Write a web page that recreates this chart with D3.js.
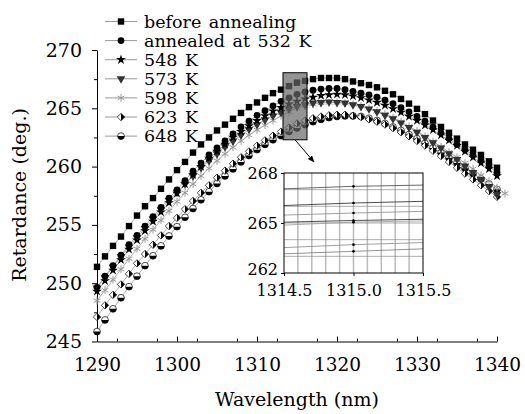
<!DOCTYPE html>
<html>
<head>
<meta charset="utf-8">
<script src="https://cdn.jsdelivr.net/npm/d3@7"></script>
<style>
  body { margin: 0; background: #fff; }
  svg text { font-family: "DejaVu Serif", serif; fill: #000; }
</style>
</head>
<body>
<div id="chart"></div>
<script>
// wavelength grid (nm); the 598 K run has one extra point at 1341
var wavelengths = [1290, 1291, 1292, 1293, 1294, 1295, 1296, 1297, 1298, 1299,
    1300, 1301, 1302, 1303, 1304, 1305, 1306, 1307, 1308, 1309,
    1310, 1311, 1312, 1313, 1314, 1315, 1316, 1317, 1318, 1319,
    1320, 1321, 1322, 1323, 1324, 1325, 1326, 1327, 1328, 1329,
    1330, 1331, 1332, 1333, 1334, 1335, 1336, 1337, 1338, 1339,
    1340, 1341];

var beforeAnnealing = [251.4, 252.3, 253.2, 254.0, 254.9, 255.8, 256.6, 257.3, 258.1, 258.9,
    259.7, 260.4, 261.2, 261.9, 262.5, 263.1, 263.6, 264.1, 264.6, 265.1,
    265.5, 265.9, 266.3, 266.6, 266.9, 267.2, 267.35, 267.5, 267.6, 267.6,
    267.6, 267.5, 267.3, 267.15, 267.0, 266.8, 266.5, 266.2, 265.8, 265.4,
    264.95, 264.5, 263.95, 263.4, 262.9, 262.4, 261.9, 261.45, 261.0, 260.45,
    259.9];
var annealed532 = [249.65, 250.6, 251.5, 252.4, 253.3, 254.1, 254.9, 255.7, 256.5, 257.3,
    258.0, 258.8, 259.6, 260.3, 261.0, 261.6, 262.2, 262.8, 263.4, 263.9,
    264.4, 264.8, 265.2, 265.6, 265.9, 266.2, 266.4, 266.55, 266.65, 266.7,
    266.7, 266.6, 266.45, 266.3, 266.15, 265.95, 265.7, 265.4, 265.05, 264.7,
    264.3, 263.9, 263.4, 262.9, 262.4, 261.9, 261.45, 261.0, 260.55, 260.05,
    259.5];
var annealed548 = [249.3, 250.2, 251.1, 252.0, 252.9, 253.7, 254.5, 255.3, 256.1, 256.9,
    257.7, 258.5, 259.3, 260.0, 260.7, 261.3, 261.9, 262.5, 263.0, 263.5,
    263.95, 264.35, 264.75, 265.05, 265.35, 265.6, 265.8, 265.95, 266.1, 266.15,
    266.2, 266.15, 266.05, 265.9, 265.7, 265.5, 265.25, 264.95, 264.65, 264.3,
    263.95, 263.55, 263.15, 262.7, 262.25, 261.8, 261.3, 260.8, 260.3, 259.8,
    259.2];
var annealed573 = [249.6, 250.5, 251.4, 252.3, 253.1, 253.9, 254.7, 255.5, 256.3, 257.1,
    257.8, 258.5, 259.2, 259.9, 260.5, 261.1, 261.7, 262.2, 262.7, 263.2,
    263.6, 264.0, 264.35, 264.65, 264.95, 265.15, 265.3, 265.45, 265.5, 265.55,
    265.5, 265.45, 265.3, 265.15, 264.95, 264.7, 264.4, 264.1, 263.75, 263.35,
    262.95, 262.5, 262.05, 261.6, 261.1, 260.6, 260.05, 259.5, 258.9, 258.25,
    257.6];
var annealed598 = [248.5, 249.4, 250.3, 251.2, 252.1, 252.95, 253.8, 254.6, 255.4, 256.2,
    257.0, 257.75, 258.5, 259.2, 259.85, 260.5, 261.1, 261.65, 262.2, 262.7,
    263.15, 263.55, 263.95, 264.35, 264.7, 265.05, 265.2, 265.35, 265.45, 265.5,
    265.5, 265.45, 265.35, 265.2, 265.0, 264.75, 264.5, 264.2, 263.85, 263.45,
    263.05, 262.6, 262.15, 261.7, 261.25, 260.8, 260.3, 259.8, 259.25, 258.75,
    258.2, 257.7];
var annealed623 = [247.1, 248.1, 249.0, 249.9, 250.8, 251.7, 252.5, 253.3, 254.1, 254.9,
    255.6, 256.35, 257.05, 257.75, 258.4, 259.05, 259.65, 260.25, 260.8, 261.3,
    261.8, 262.25, 262.65, 263.0, 263.35, 263.7, 263.95, 264.15, 264.3, 264.4,
    264.45, 264.45, 264.35, 264.25, 264.05, 263.85, 263.6, 263.3, 262.95, 262.6,
    262.2, 261.8, 261.35, 260.9, 260.4, 259.9, 259.4, 258.9, 258.4, 257.9,
    257.4];
var annealed648 = [245.85, 246.85, 247.8, 248.75, 249.7, 250.6, 251.5, 252.35, 253.2, 254.05,
    254.85, 255.65, 256.4, 257.15, 257.85, 258.55, 259.2, 259.8, 260.4, 260.95,
    261.45, 261.9, 262.3, 262.65, 263.0, 263.3, 263.6, 263.85, 264.05, 264.2,
    264.3, 264.35, 264.35, 264.3, 264.15, 263.95, 263.7, 263.4, 263.1, 262.75,
    262.4, 262.0, 261.6, 261.2, 260.75, 260.3, 259.85, 259.4, 258.95, 258.5,
    258.05];

var seriesLabels = ["before annealing", "annealed at 532 K", "548 K", "573 K", "598 K", "623 K", "648 K"];
var seriesValues = [beforeAnnealing, annealed532, annealed548, annealed573, annealed598, annealed623, annealed648];
var seriesMarkers = ["square", "circle", "star", "triangleDown", "asterisk", "halfDiamond", "halfCircle"];

var xTicks = [1290, 1300, 1310, 1320, 1330, 1340];
var yTicks = [245, 250, 255, 260, 265, 270];
var insetXTicks = [1314.5, 1315.0, 1315.5];
var insetYTicks = [262, 265, 268];
var insetGridX = [1314.6, 1314.7, 1314.8, 1314.9, 1315.0, 1315.1, 1315.2, 1315.3, 1315.4];
var insetGridY = [263, 264, 265, 266, 267];
var insetDotAt = 1315;

var width = 525, height = 414;

var svg = d3.select("#chart").append("svg")
    .attr("width", width)
    .attr("height", height);

var x = d3.scaleLinear().domain([1290, 1340]).range([97, 497]);
var y = d3.scaleLinear().domain([245, 270]).range([341.5, 50]);

// marker drawing
function drawMarker(g, type, k) {
    k = k || 1;
    if (type === "square") {
        g.append("rect").attr("x", -3.2 * k).attr("y", -3.2 * k)
            .attr("width", 6.4 * k).attr("height", 6.4 * k).attr("fill", "#000");
    } else if (type === "circle") {
        g.append("circle").attr("r", 3.4 * k).attr("fill", "#000");
    } else if (type === "star") {
        g.append("path").attr("d", d3.symbol(d3.symbolStar, 30 * k * k)()).attr("fill", "#000");
    } else if (type === "triangleDown") {
        g.append("path").attr("d", d3.symbol(d3.symbolTriangle, 32 * k * k)())
            .attr("transform", "rotate(180)").attr("fill", "#333");
    } else if (type === "asterisk") {
        g.append("path").attr("d", d3.symbol(d3.symbolAsterisk, 42 * k * k)())
            .attr("fill", "none").attr("stroke", "#999").attr("stroke-width", 1);
    } else if (type === "halfDiamond") {
        var s = 3.7 * k;
        g.append("path").attr("d", "M0," + (-s) + "L" + s + ",0L0," + s + "L" + (-s) + ",0Z")
            .attr("fill", "#fff").attr("stroke", "#000").attr("stroke-width", 0.7);
        g.append("path").attr("d", "M0," + (-s) + "L" + s + ",0L0," + s + "Z").attr("fill", "#000");
    } else if (type === "halfCircle") {
        var r = 3.4 * k;
        g.append("circle").attr("r", r).attr("fill", "#fff").attr("stroke", "#000").attr("stroke-width", 0.7);
        g.append("path").attr("d", "M" + (-r) + ",0A" + r + "," + r + " 0 0,0 " + r + ",0Z").attr("fill", "#000");
    }
}

function points(vals) {
    return vals.map(function (v, i) { return { w: wavelengths[i], v: v }; });
}

// axes
var yAxis = svg.append("g").attr("transform", "translate(97,0)")
    .call(d3.axisLeft(y).tickValues(yTicks).tickSize(5).tickSizeOuter(0).tickPadding(10)
        .tickFormat(d3.format("d")));
yAxis.selectAll("text").attr("font-size", 19).attr("font-family", "DejaVu Serif");
svg.append("g").attr("transform", "translate(97,0)")
    .call(d3.axisLeft(y).tickValues(d3.range(247.5, 270, 5)).tickSize(3).tickFormat(""))
    .select(".domain").remove();

var xAxis = svg.append("g").attr("transform", "translate(0,341.5)")
    .call(d3.axisBottom(x).tickValues(xTicks).tickSize(-5).tickSizeOuter(0).tickPadding(16.5)
        .tickFormat(d3.format("d")));
xAxis.selectAll("text").attr("font-size", 18.5).attr("font-family", "DejaVu Serif");
svg.append("g").attr("transform", "translate(0,341.5)")
    .call(d3.axisBottom(x).tickValues(d3.range(1292.5, 1340, 5)).tickSize(-3).tickFormat(""))
    .select(".domain").remove();
svg.selectAll(".domain, .tick line").attr("stroke", "#000");

// axis titles
svg.append("text").attr("x", 297).attr("y", 406).attr("text-anchor", "middle")
    .attr("font-size", 19).text("Wavelength (nm)");
svg.append("text").attr("transform", "translate(26,195) rotate(-90)").attr("text-anchor", "middle")
    .attr("font-size", 19).text("Retardance (deg.)");

// series lines and markers (draw last series first so "before annealing" sits on top)
var line = d3.line().x(function (d) { return x(d.w); }).y(function (d) { return y(d.v); });
var order = d3.range(seriesValues.length).reverse();
order.forEach(function (si) {
    svg.append("path").datum(points(seriesValues[si]))
        .attr("d", line).attr("fill", "none").attr("stroke", "#999").attr("stroke-width", 0.8);
});
order.forEach(function (si) {
    var g = svg.append("g");
    g.selectAll("g").data(points(seriesValues[si])).enter().append("g")
        .attr("transform", function (d) { return "translate(" + x(d.w) + "," + y(d.v) + ")"; })
        .each(function () { drawMarker(d3.select(this), seriesMarkers[si]); });
});

// zoom box on the main plot
var box = { w0: 1313.25, w1: 1316.25, v0: 262.3, v1: 268.05 };
svg.append("rect")
    .attr("x", x(box.w0)).attr("y", y(box.v1))
    .attr("width", x(box.w1) - x(box.w0)).attr("height", y(box.v0) - y(box.v1))
    .attr("fill", "#666").attr("fill-opacity", 0.7).attr("stroke", "#000").attr("stroke-width", 1);

// arrow
svg.append("defs").append("marker").attr("id", "arrow")
    .attr("viewBox", "0 0 10 10").attr("refX", 9).attr("refY", 5)
    .attr("markerWidth", 7).attr("markerHeight", 7).attr("orient", "auto")
    .append("path").attr("d", "M0,1L10,5L0,9Z").attr("fill", "#000");
svg.append("line").attr("x1", 295).attr("y1", y(box.v0)).attr("x2", 314).attr("y2", 162)
    .attr("stroke", "#000").attr("stroke-width", 1).attr("marker-end", "url(#arrow)");

// inset
var ix = d3.scaleLinear().domain([1314.5, 1315.5]).range([284, 423]);
var iy = d3.scaleLinear().domain([262, 268]).range([273, 173]);
var inset = svg.append("g");
inset.append("rect").attr("x", 284).attr("y", 173).attr("width", 139).attr("height", 100).attr("fill", "#fff");
inset.append("clipPath").attr("id", "insetClip").append("rect")
    .attr("x", 284).attr("y", 173).attr("width", 139).attr("height", 100);
inset.selectAll(".gx").data(insetGridX).enter().append("line")
    .attr("x1", function (d) { return ix(d); }).attr("x2", function (d) { return ix(d); })
    .attr("y1", 173).attr("y2", 273).attr("stroke", "#bbb").attr("stroke-width", 1.5);
inset.selectAll(".gy").data(insetGridY).enter().append("line")
    .attr("y1", function (d) { return iy(d); }).attr("y2", function (d) { return iy(d); })
    .attr("x1", 284).attr("x2", 423).attr("stroke", "#777").attr("stroke-width", 0.6);
var iline = d3.line().x(function (d) { return ix(d.w); }).y(function (d) { return iy(d.v); });
var insetLineColors = ["#444", "#222", "#888", "#222", "#999", "#888", "#777"];
seriesValues.forEach(function (vals, si) {
    inset.append("path").datum(points(vals)).attr("clip-path", "url(#insetClip)")
        .attr("d", iline).attr("fill", "none").attr("stroke", insetLineColors[si]).attr("stroke-width", 0.8);
    var k = wavelengths.indexOf(insetDotAt);
    inset.append("circle").attr("cx", ix(insetDotAt)).attr("cy", iy(vals[k]))
        .attr("r", 1.3).attr("fill", "#000");
});
inset.append("rect").attr("x", 284).attr("y", 173).attr("width", 139).attr("height", 100)
    .attr("fill", "none").attr("stroke", "#000").attr("stroke-width", 1);

var iyAxis = inset.append("g").attr("transform", "translate(284,0)")
    .call(d3.axisLeft(iy).tickValues(insetYTicks).tickSize(3).tickSizeOuter(0).tickPadding(3)
        .tickFormat(d3.format("d")));
iyAxis.select(".domain").remove();
iyAxis.selectAll("text").attr("font-size", 16).attr("font-family", "Liberation Serif")
    .attr("dy", function (d) { return d === 262 ? "0.12em" : "0.32em"; });
var ixAxis = inset.append("g").attr("transform", "translate(0,273)")
    .call(d3.axisBottom(ix).tickValues(insetXTicks).tickSize(3).tickSizeOuter(0).tickPadding(8.6)
        .tickFormat(d3.format(".1f")));
ixAxis.select(".domain").remove();
ixAxis.selectAll("text").attr("font-size", 16).attr("font-family", "Liberation Serif");
inset.selectAll(".tick line").attr("stroke", "#000");

// legend
var legend = svg.append("g");
seriesLabels.forEach(function (label, i) {
    var ly = 21.5 + i * 19.1;
    legend.append("line").attr("x1", 105).attr("x2", 137).attr("y1", ly).attr("y2", ly)
        .attr("stroke", "#999").attr("stroke-width", 1);
    var m = legend.append("g").attr("transform", "translate(121," + ly + ")");
    drawMarker(m, seriesMarkers[i]);
    legend.append("text").attr("x", 144).attr("y", ly + 6).attr("font-size", 17.5)
        .attr("word-spacing", 2).text(label);
});
</script>
</body>
</html>
